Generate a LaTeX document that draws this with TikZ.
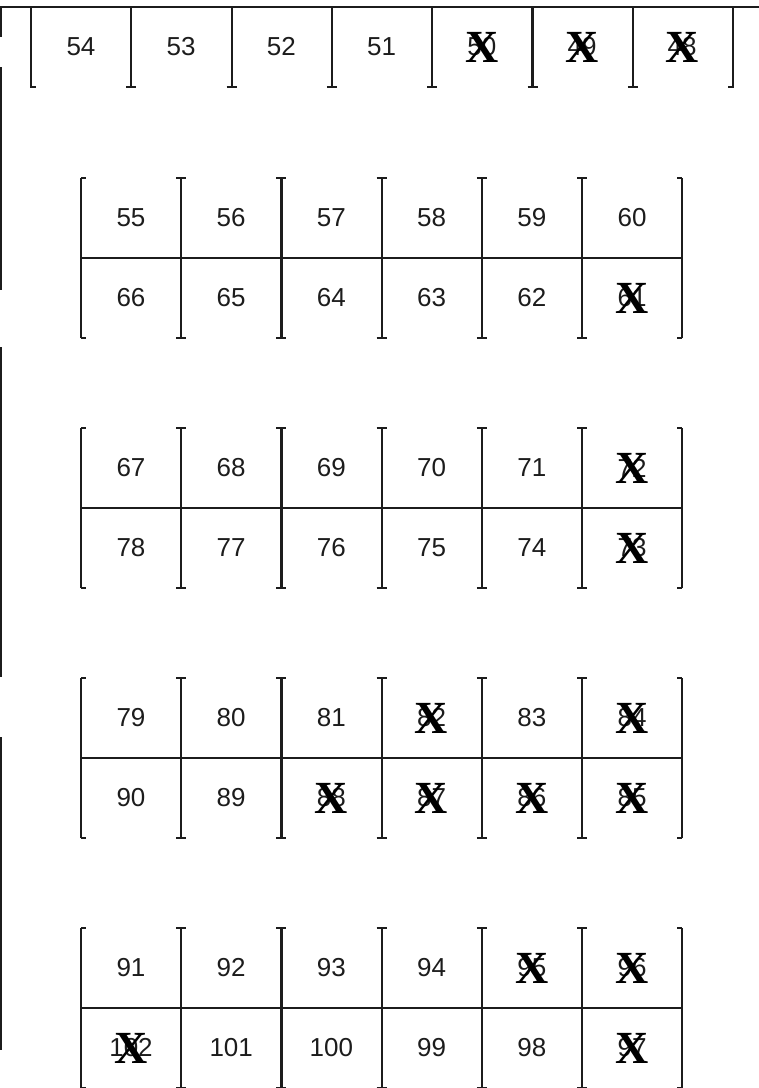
\documentclass[tikz,border=0pt]{standalone}
\usepackage{fontspec}
\setmainfont{Liberation Sans}
\newfontfamily\crossfont{Liberation Serif}
\usetikzlibrary{positioning}
\definecolor{Ink}{HTML}{1C1C1C}
\tikzset{
  wall/.style={Ink, line width=2.2pt},
  num/.style={font=\fontsize{26}{26}\selectfont, text=Ink, inner sep=0pt},
  cross/.style={font=\crossfont\bfseries\fontsize{46}{46}\selectfont, text=black, inner sep=0pt}
}
% one row of bay numbers: first centre x, centre y, list of number/taken
\newcommand{\bayrow}[3]{
  \foreach \n/\c [count=\i from 0] in {#3} {
    \node[num] (b\n) at ({#1+100.2*\i},#2) {\n};
    \ifnum\c=1 \node[cross] (x\n) at (b\n) {X}; \fi
  }
}
% double rack of bays, #1 = top edge
\newcommand{\rack}[1]{
  \begin{scope}[shift={(0,#1)}]
    \draw[wall] (81,0) -- (81,160) (81,0) -- (86,0) (81,160) -- (86,160);
    \foreach \x in {181.2,281.4,381.6,481.8,582} \draw[wall] (\x,0) -- (\x,160) (\x-5,0) -- (\x+5,0) (\x-5,160) -- (\x+5,160);
    \draw[wall] (682,0) -- (682,160) (682,0) -- (677,0) (682,160) -- (677,160);
    \draw[wall] (81,80) -- (682,80);
  \end{scope}
}

\begin{document}
\begin{tikzpicture}[x=1pt, y=-1pt]
  \useasboundingbox (0,0) rectangle (759,1088);
  % outer wall
  \draw[wall] (0,7) -- (759,7);
  \draw[wall] (1,7) -- (1,37) (1,67) -- (1,290) (1,347) -- (1,677) (1,737) -- (1,1050);
  % top row
  \draw[wall] (31,7) -- (31,87) -- (36,87);
  \foreach \x in {131.3,231.6,331.9,432.2,532.5,632.8} \draw[wall] (\x,7) -- (\x,87) (\x-5,87) -- (\x+5,87);
  \draw[wall] (733,7) -- (733,87) -- (728,87);
  \bayrow{81}{47}{54/0,53/0,52/0,51/0,50/1,49/1,48/1}
  % racks
  \rack{178}
  \bayrow{131}{218}{55/0,56/0,57/0,58/0,59/0,60/0}
  \bayrow{131}{298}{66/0,65/0,64/0,63/0,62/0,61/1}
  \rack{428}
  \bayrow{131}{468}{67/0,68/0,69/0,70/0,71/0,72/1}
  \bayrow{131}{548}{78/0,77/0,76/0,75/0,74/0,73/1}
  \rack{678}
  \bayrow{131}{718}{79/0,80/0,81/0,82/1,83/0,84/1}
  \bayrow{131}{798}{90/0,89/0,88/1,87/1,86/1,85/1}
  \rack{928}
  \bayrow{131}{968}{91/0,92/0,93/0,94/0,95/1,96/1}
  \bayrow{131}{1048}{102/1,101/0,100/0,99/0,98/0,97/1}
\end{tikzpicture}
\end{document}
